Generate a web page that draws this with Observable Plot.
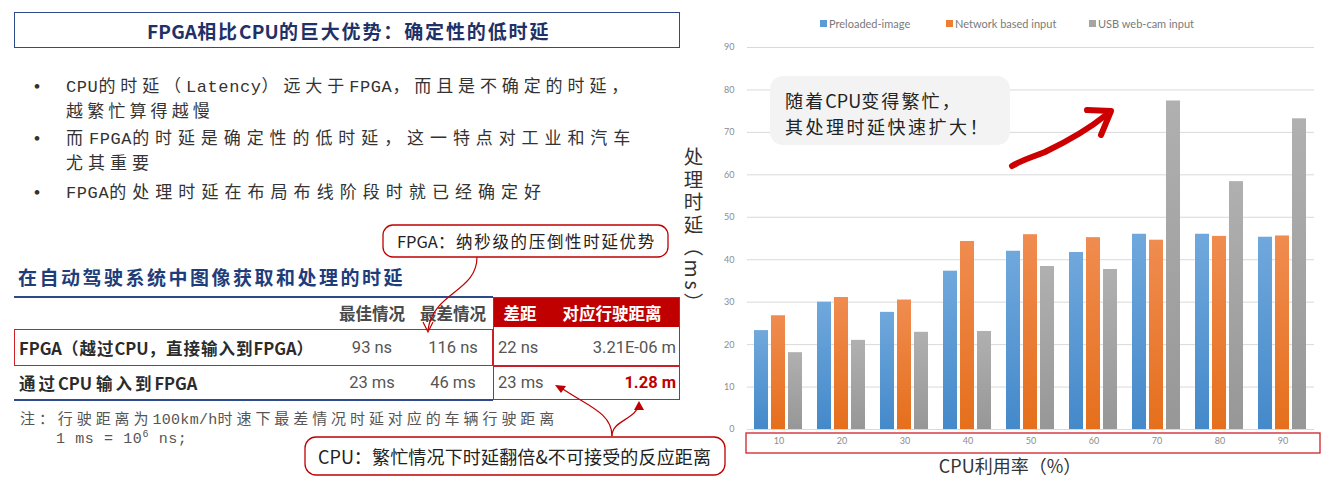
<!DOCTYPE html>
<html>
<head>
<meta charset="utf-8">
<script src="https://cdn.jsdelivr.net/npm/d3@7"></script>
<script src="https://cdn.jsdelivr.net/npm/@observablehq/plot@0.6"></script>
<style>
html, body { margin: 0; padding: 0; background: #fff; }
#page { position: relative; width: 1335px; height: 478px; overflow: hidden;
  font-family: "Noto Sans CJK SC", "Noto Sans", sans-serif; }
.abs { position: absolute; white-space: nowrap; }
#chart { position: absolute; left: 700px; top: 0; }
#overlay { position: absolute; left: 0; top: 0; pointer-events: none; }
</style>
</head>
<body>
<div id="page"></div>
<script>
// ---------- data ----------
const cpuUtil = [10, 20, 30, 40, 50, 60, 70, 80, 90];
const seriesNames = ["Preloaded-image", "Network based input", "USB web-cam input"];
const preloadedImage = [23.3, 30.0, 27.6, 37.3, 42.0, 41.7, 46.0, 46.0, 45.3];
const networkInput   = [26.8, 31.1, 30.5, 44.3, 45.9, 45.2, 44.6, 45.5, 45.6];
const usbWebcam      = [18.1, 21.0, 22.9, 23.1, 38.4, 37.7, 77.4, 58.4, 73.2];
const seriesColors = ["#5b9bd5", "#ed7d31", "#a5a5a5"];
const yTicks = [0, 10, 20, 30, 40, 50, 60, 70, 80, 90];
const yTitle = "处理时延（ms）";
const xTitle = "CPU利用率（%）";
const chartNote = ["随着CPU变得繁忙，", "其处理时延快速扩大！"];

const pageTitle = "FPGA相比CPU的巨大优势：确定性的低时延";
const bulletLines = [
  ["CPU的时延（Latency）远大于FPGA，而且是不确定的时延，", "越繁忙算得越慢"],
  ["而FPGA的时延是确定性的低时延，这一特点对工业和汽车", "尤其重要"],
  ["FPGA的处理时延在布局布线阶段时就已经确定好"]
];
const tableTitle = "在自动驾驶系统中图像获取和处理的时延";
const tableHeader = ["", "最佳情况", "最差情况", "差距", "对应行驶距离"];
const tableRowLabels = ["FPGA（越过CPU，直接输入到FPGA）", "通过CPU 输入到FPGA"];
const bestCase = ["93 ns", "23 ms"];
const worstCase = ["116 ns", "46 ms"];
const gapValues = ["22 ns", "23 ms"];
const distanceValues = ["3.21E-06 m", "1.28 m"];
const noteLine1 = "注：行驶距离为100km/h时速下最差情况时延对应的车辆行驶距离";
const noteLine2 = ["1 ms = 10", "6", " ns;"];
const calloutFPGA = "FPGA：纳秒级的压倒性时延优势";
const calloutCPU = "CPU：繁忙情况下时延翻倍&不可接受的反应距离";

// ---------- helpers ----------
const page = document.getElementById("page");
function addBox(css) {
  const d = document.createElement("div");
  d.style.position = "absolute";
  Object.assign(d.style, css);
  page.appendChild(d);
  return d;
}
function addText(txt, css) {
  const d = document.createElement("div");
  d.className = "abs";
  d.textContent = txt;
  Object.assign(d.style, css);
  page.appendChild(d);
  return d;
}
// text split into CJK / Latin runs; CJK runs are spaced so that the text ends at targetRight
function addSpaced(txt, css, targetRight, latinCss) {
  const d = document.createElement("div");
  d.className = "abs";
  Object.assign(d.style, css);
  const runs = txt.match(/[\x00-\x7F]+|[^\x00-\x7F]+/g);
  const cjkSpans = [];
  let nCjk = 0;
  runs.forEach(r => {
    const s = document.createElement("span");
    s.textContent = r;
    if (/[^\x00-\x7F]/.test(r)) { cjkSpans.push(s); nCjk += Array.from(r).length; }
    else if (latinCss) Object.assign(s.style, latinCss);
    d.appendChild(s);
  });
  page.appendChild(d);
  if (targetRight != null && nCjk > 0) {
    const right = d.getBoundingClientRect().left + d.scrollWidth;
    const ls = (targetRight - right) / nCjk;
    cjkSpans.forEach(s => s.style.letterSpacing = ls.toFixed(2) + "px");
  }
  return d;
}
const typeLatin = {fontFamily: "'Liberation Mono', monospace", letterSpacing: "0.6px"};

// ---------- left panel ----------
addBox({left: "14px", top: "12px", width: "664px", height: "34px", border: "1.5px solid #2e4a8b"});
addSpaced(pageTitle, {left: "147px", top: "12px", height: "37px", lineHeight: "37px",
  fontSize: "19px", fontWeight: "700", color: "#1f3167"}, 550, {letterSpacing: "0.2px"});

const bulletTops = [[72, 97], [124, 149], [178]];
const bulletEnds = [[633, 214], [636, 154], [547]];
bulletLines.forEach((lines, i) => {
  addText("•", {left: "26px", top: (bulletTops[i][0]) + "px", fontSize: "22px", lineHeight: "25px", color: "#333"});
  lines.forEach((ln, j) => {
    addSpaced(ln, {left: "66px", top: bulletTops[i][j] + "px", fontSize: "17px",
      lineHeight: "25px", color: "#333"}, bulletEnds[i][j], typeLatin);
  });
});

addSpaced(tableTitle, {left: "18px", top: "264px", fontSize: "19px", lineHeight: "26px", fontWeight: "700",
  color: "#1f3d7a"}, 405);

// table frame
addBox({left: "14px", top: "296px", width: "479px", height: "2px", background: "#2e4a8b"});
addBox({left: "14px", top: "399px", width: "479px", height: "2px", background: "#2e4a8b"});
addBox({left: "493px", top: "297px", width: "187px", height: "30px", background: "#c00000"});
addBox({left: "493px", top: "297px", width: "185px", height: "101px", border: "1.5px solid #c8202a"});
addBox({left: "493px", top: "365px", width: "187px", height: "1.5px", background: "#c8202a"});
addBox({left: "14px", top: "329px", width: "477px", height: "35px", border: "1.5px solid #d0202a"});

const colCenter = [0, 372, 453, 520, 612];
const headerY = 299, rowY = [331, 366];
tableHeader.forEach((h, k) => {
  if (!h) return;
  addText(h, {left: (colCenter[k] - 60) + "px", top: headerY + "px", width: "120px", textAlign: "center",
    fontSize: "16.5px", lineHeight: "28px", fontWeight: "700", color: k >= 3 ? "#fff" : "#4a4a4a"});
});
const labelEnds = [314, 197];
const valueCss = {fontFamily: "Roboto, sans-serif", fontSize: "16.5px", lineHeight: "34px", color: "#555"};
tableRowLabels.forEach((lab, r) => {
  addSpaced(lab, {left: "19px", top: rowY[r] + "px", fontSize: "16.5px", lineHeight: "34px", fontWeight: "700",
    color: "#2b2b2b"}, labelEnds[r]);
  addText(bestCase[r], Object.assign({left: (colCenter[1] - 50) + "px", top: rowY[r] + "px", width: "100px", textAlign: "center"}, valueCss));
  addText(worstCase[r], Object.assign({left: (colCenter[2] - 50) + "px", top: rowY[r] + "px", width: "100px", textAlign: "center"}, valueCss));
  addText(gapValues[r], Object.assign({left: "498px", top: rowY[r] + "px"}, valueCss));
  addText(distanceValues[r], Object.assign({left: "520px", width: "156px", textAlign: "right", top: rowY[r] + "px"}, valueCss,
    r === 1 ? {color: "#c00000", fontWeight: "700"} : {}));
});

addSpaced(noteLine1, {left: "20px", top: "407px", fontSize: "15px", lineHeight: "22px", color: "#555"}, 558,
  {fontFamily: "'Liberation Mono', monospace", letterSpacing: "0.3px"});
const n2 = addText("", {left: "56px", top: "429px", fontFamily: "'Liberation Mono', monospace", fontSize: "15px",
  lineHeight: "22px", color: "#555", letterSpacing: "0.6px"});
n2.innerHTML = noteLine2[0] + "<sup style='font-size:10px;vertical-align:6px;line-height:0'>" + noteLine2[1] + "</sup>" + noteLine2[2];

// callout texts
addSpaced(calloutFPGA, {left: "397px", top: "225px", height: "32px", lineHeight: "32px",
  fontSize: "16.5px", color: "#222"}, 656);
addSpaced(calloutCPU, {left: "318px", top: "437px", height: "38px", lineHeight: "38px",
  fontSize: "18px", color: "#222"}, 711);

// ---------- chart ----------
const data = [];
cpuUtil.forEach((c, i) => {
  data.push({cpu: c, series: seriesNames[0], value: preloadedImage[i]});
  data.push({cpu: c, series: seriesNames[1], value: networkInput[i]});
  data.push({cpu: c, series: seriesNames[2], value: usbWebcam[i]});
});

const chart = Plot.plot({
  width: 635,
  height: 478,
  marginTop: 47,
  marginBottom: 49,
  marginLeft: 46,
  marginRight: 20,
  style: {fontFamily: "Lato, 'Open Sans', sans-serif", fontSize: "9px", color: "#8c8c8c", background: "transparent", overflow: "visible"},
  fx: {domain: cpuUtil, padding: 0, label: null, axis: "bottom", tickSize: 0, tickPadding: 8},
  x: {domain: seriesNames, axis: null, paddingInner: 0.17, paddingOuter: 0.385},
  y: {domain: [0, 90], ticks: yTicks, label: null, tickSize: 0, tickPadding: 13},
  color: {domain: seriesNames, range: ["url(#gBlue)", "url(#gOrange)", "url(#gGray)"]},
  marks: [
    Plot.ruleY(yTicks, {stroke: "#d9d9d9", strokeWidth: 1}),
    Plot.barY(data, {fx: "cpu", x: "series", y: "value", fill: "series"})
  ]
});
chart.id = "chart";
const defs = document.createElementNS("http://www.w3.org/2000/svg", "defs");
defs.innerHTML = `
<linearGradient id="gBlue" x1="0" y1="0" x2="0" y2="1"><stop offset="0" stop-color="#70a8dc"/><stop offset="1" stop-color="#4489ca"/></linearGradient>
<linearGradient id="gOrange" x1="0" y1="0" x2="0" y2="1"><stop offset="0" stop-color="#f08c50"/><stop offset="1" stop-color="#e56f1c"/></linearGradient>
<linearGradient id="gGray" x1="0" y1="0" x2="0" y2="1"><stop offset="0" stop-color="#b0b0b0"/><stop offset="1" stop-color="#979797"/></linearGradient>`;
chart.insertBefore(defs, chart.firstChild);
page.appendChild(chart);

// legend
const legendX = [820, 946, 1089];
seriesNames.forEach((s, i) => {
  addBox({left: legendX[i] + "px", top: "20px", width: "7px", height: "7px", background: seriesColors[i]});
  addText(s, {left: (legendX[i] + 9) + "px", top: "15px", fontFamily: "Lato, 'Open Sans', sans-serif",
    fontSize: "11px", lineHeight: "17px", color: "#7a7a7a"});
});

// y title (vertical)
addText(yTitle, {left: "682px", top: "147px", writingMode: "vertical-rl", fontSize: "19.5px",
  letterSpacing: "3px", color: "#333", lineHeight: "22px"});
// x title
addText(xTitle, {left: "910px", top: "454px", width: "200px", textAlign: "center", fontSize: "18px",
  lineHeight: "22px", color: "#333"});

// chart note bubble
addBox({left: "770px", top: "76px", width: "240px", height: "69px", background: "#f3f3f3", borderRadius: "13px"});
addSpaced(chartNote[0], {left: "785px", top: "87px", fontSize: "18px", lineHeight: "26px", color: "#222"}, 962);
addSpaced(chartNote[1], {left: "785px", top: "113px", fontSize: "18px", lineHeight: "26px", color: "#222"}, 990);

// ---------- overlay decorations ----------
const svgNS = "http://www.w3.org/2000/svg";
const ov = document.createElementNS(svgNS, "svg");
ov.setAttribute("id", "overlay");
ov.setAttribute("width", 1335);
ov.setAttribute("height", 478);
ov.innerHTML = `
<rect x="746" y="433" width="574" height="20" fill="none" stroke="#d0202a" stroke-width="1.3"/>
<rect x="383" y="225" width="285" height="32" rx="10" fill="none" stroke="#c00000" stroke-width="1.3"/>
<rect x="305" y="437" width="420" height="38" rx="11" fill="none" stroke="#c00000" stroke-width="1.3"/>
<path d="M477,257 C477,292 433,292 428,330" fill="none" stroke="#c00000" stroke-width="1.2"/>
<path d="M423,322 L428,332 L433,322" fill="none" stroke="#c00000" stroke-width="1.2"/>
<path d="M612,436 C612,412 585,405 560,387" fill="none" stroke="#c00000" stroke-width="1.2"/>
<path d="M555,385 L566,386 L561,393 Z" fill="#c00000"/>
<path d="M612,436 C612,420 636,420 639,404" fill="none" stroke="#c00000" stroke-width="1.2"/>
<path d="M634,410 L639,401 L644,410 Z" fill="#c00000"/>
<path d="M1012,166 C1022,160 1030,158 1045,152 C1070,140 1090,128 1106,115" fill="none" stroke="#cc0000" stroke-width="6" stroke-linecap="round"/>
<path d="M1087,110 L1111,111 L1101,135" fill="none" stroke="#cc0000" stroke-width="6" stroke-linecap="round" stroke-linejoin="round"/>
`;
page.appendChild(ov);
</script>
</body>
</html>
